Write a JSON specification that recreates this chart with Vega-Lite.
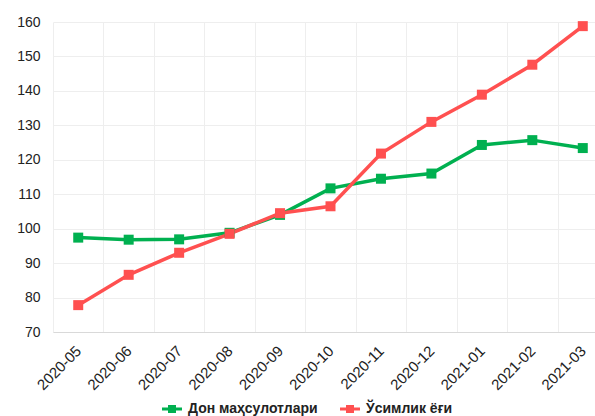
{
  "$schema": "https://vega.github.io/schema/vega-lite/v6.json",
  "width": 555,
  "height": 310,
  "autosize": {"type": "none"},
  "padding": {"left": 53, "top": 22, "right": 0, "bottom": 84},
  "background": "white",
  "config": {
    "view": {"stroke": null},
    "font": "Liberation Sans",
    "axis": {"labelFont": "Liberation Sans", "labelColor": "#222", "gridColor": "#eeeeee", "gridWidth": 1}
  },
  "data": {
    "values": [
      {"month": "2020-05", "series": "Дон маҳсулотлари", "value": 97.4},
      {"month": "2020-06", "series": "Дон маҳсулотлари", "value": 96.8},
      {"month": "2020-07", "series": "Дон маҳсулотлари", "value": 96.9},
      {"month": "2020-08", "series": "Дон маҳсулотлари", "value": 98.8},
      {"month": "2020-09", "series": "Дон маҳсулотлари", "value": 104.0},
      {"month": "2020-10", "series": "Дон маҳсулотлари", "value": 111.7},
      {"month": "2020-11", "series": "Дон маҳсулотлари", "value": 114.5},
      {"month": "2020-12", "series": "Дон маҳсулотлари", "value": 116.0},
      {"month": "2021-01", "series": "Дон маҳсулотлари", "value": 124.3},
      {"month": "2021-02", "series": "Дон маҳсулотлари", "value": 125.7},
      {"month": "2021-03", "series": "Дон маҳсулотлари", "value": 123.4},
      {"month": "2020-05", "series": "Ўсимлик ёғи", "value": 77.8},
      {"month": "2020-06", "series": "Ўсимлик ёғи", "value": 86.6},
      {"month": "2020-07", "series": "Ўсимлик ёғи", "value": 93.0},
      {"month": "2020-08", "series": "Ўсимлик ёғи", "value": 98.5},
      {"month": "2020-09", "series": "Ўсимлик ёғи", "value": 104.5},
      {"month": "2020-10", "series": "Ўсимлик ёғи", "value": 106.5},
      {"month": "2020-11", "series": "Ўсимлик ёғи", "value": 121.8},
      {"month": "2020-12", "series": "Ўсимлик ёғи", "value": 131.0},
      {"month": "2021-01", "series": "Ўсимлик ёғи", "value": 138.9},
      {"month": "2021-02", "series": "Ўсимлик ёғи", "value": 147.6},
      {"month": "2021-03", "series": "Ўсимлик ёғи", "value": 158.8}
    ]
  },
  "encoding": {
    "x": {
      "field": "month", "type": "ordinal", "bandPosition": 0.5,
      "scale": {"type": "band", "paddingInner": 0, "paddingOuter": 0},
      "axis": {"title": null, "labelAngle": -45, "labelFontSize": 15, "ticks": false, "labelPadding": 16, "tickBand": "extent", "grid": true, "domainColor": "#d9d9d9", "labelAlign": "right", "labelBaseline": "middle"}
    },
    "y": {
      "field": "value", "type": "quantitative",
      "scale": {"domain": [70, 160], "nice": false, "zero": false},
      "axis": {"title": null, "values": [70, 80, 90, 100, 110, 120, 130, 140, 150, 160], "labelFontSize": 14, "ticks": false, "domain": false, "labelPadding": 13}
    },
    "color": {
      "field": "series", "type": "nominal",
      "scale": {"domain": ["Дон маҳсулотлари", "Ўсимлик ёғи"], "range": ["#00b050", "#ff5050"]},
      "legend": {
        "title": null, "orient": "none", "direction": "horizontal", "legendX": 109, "legendY": 377,
        "labelFontSize": 14, "labelFontWeight": "bold", "labelColor": "#222", "labelFont": "Liberation Sans",
        "symbolType": "M-1,-0.15H1V0.15H-1Z M-0.4,-0.4H0.4V0.4H-0.4Z",
        "symbolSize": 400, "symbolStrokeWidth": 0, "columnPadding": 22, "labelOffset": 6
      }
    }
  },
  "layer": [
    {"mark": {"type": "line", "strokeWidth": 3.5}},
    {"mark": {"type": "point", "shape": "square", "filled": true, "size": 100, "opacity": 1}}
  ]
}
